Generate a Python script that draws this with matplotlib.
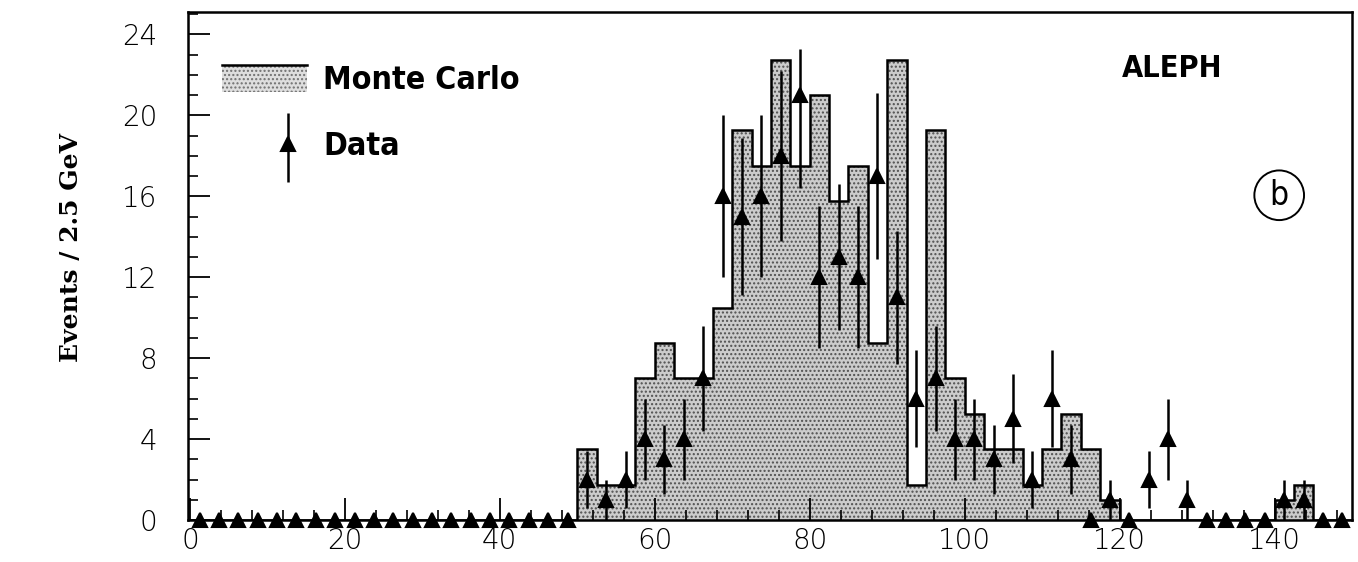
import numpy as np
import matplotlib
matplotlib.use("Agg")
import matplotlib.pyplot as plt
from matplotlib.ticker import MultipleLocator

# bins of 2.5 GeV from 0 to 150
bin_width = 2.5
edges = np.arange(0, 150 + bin_width, bin_width)
centers = edges[:-1] + bin_width / 2

# Monte Carlo, bins 0-50 are empty
mc_low = [0.0] * 20
mc_high = [3.5, 1.75, 1.75, 7.0, 8.75, 7.0, 7.0, 10.5, 19.25, 17.5,
           22.75, 17.5, 21.0, 15.75, 17.5, 8.75, 22.75, 1.75, 19.25, 7.0,
           5.25, 3.5, 3.5, 1.75, 3.5, 5.25, 3.5, 1.0, 0, 0,
           0, 0, 0, 0, 0, 0, 1.0, 1.75, 0, 0]
mc = np.array(mc_low + mc_high)

# data events per bin
data_low = [0] * 20
data_high = [2, 1, 2, 4, 3, 4, 7, 16, 15, 16,
             18, 21, 12, 13, 12, 17, 11, 6, 7, 4,
             4, 3, 5, 2, 6, 3, 0, 1, 0, 2,
             4, 1, 0, 0, 0, 0, 1, 1, 0, 0]
data = np.array(data_low + data_high)

# error bars (lower, upper)
err_lo_high = [1.4, 1.0, 1.4, 2.0, 1.7, 2.0, 2.6, 4.0, 3.9, 4.0,
               4.2, 4.6, 3.5, 3.6, 3.5, 4.1, 3.3, 2.4, 2.6, 2.0,
               2.0, 1.7, 2.2, 1.4, 2.4, 1.7, 0, 1.0, 0, 1.4,
               2.0, 1.0, 0, 0, 0, 0, 1.0, 1.0, 0, 0]
err_hi_high = [1.4, 1.0, 1.4, 2.0, 1.7, 2.0, 2.6, 4.0, 3.9, 4.0,
               4.2, 2.3, 3.5, 3.6, 3.5, 4.1, 3.3, 2.4, 2.6, 2.0,
               2.0, 1.7, 2.2, 1.4, 2.4, 1.7, 0, 1.0, 0, 1.4,
               2.0, 1.0, 0, 0, 0, 0, 1.0, 1.0, 0, 0]
err_lo = np.array([0] * 20 + err_lo_high)
err_hi = np.array([0] * 20 + err_hi_high)

plt.rcParams['font.family'] = 'DejaVu Sans'
plt.rcParams['font.weight'] = 'light'
plt.rcParams['hatch.linewidth'] = 1.0
plt.rcParams['hatch.color'] = '#505050'

fig = plt.figure(figsize=(13.58, 5.62), dpi=100)
ax = fig.add_axes([0.1384, 0.0745, 0.8572, 0.904])

# shaded MC histogram + outline
ax.stairs(mc, edges, fill=True, facecolor='#cccccc', edgecolor='#505050',
          linewidth=0, hatch='....', baseline=0)
ax.stairs(mc, edges, fill=False, color='black', linewidth=1.8, baseline=0)

# data points
nz = data > 0
ax.errorbar(centers[nz], data[nz], yerr=[err_lo[nz], err_hi[nz]], fmt='none',
            ecolor='black', elinewidth=1.8, capsize=0)
ax.plot(centers, data, linestyle='none', marker='^', markersize=10,
        markerfacecolor='black', markeredgecolor='black', markeredgewidth=1.5,
        clip_on=False, zorder=5)

ax.set_xlim(-0.25, 150)
ax.set_ylim(0, 25.1)

ax.xaxis.set_major_locator(MultipleLocator(20))
ax.xaxis.set_minor_locator(MultipleLocator(4))
ax.yaxis.set_major_locator(MultipleLocator(4))
ax.yaxis.set_minor_locator(MultipleLocator(1))
ax.tick_params(which='both', direction='in', top=False, right=False)
ax.tick_params(which='major', length=16, width=1.3, labelsize=20)
ax.tick_params(which='minor', length=7, width=1.2)
ax.tick_params(axis='y', which='major', pad=22)
ax.tick_params(axis='x', which='major', pad=5)
for sp in ax.spines.values():
    sp.set_linewidth(1.8)

ax.set_ylabel('Events / 2.5 GeV', fontsize=18, fontweight='bold',
              family='DejaVu Serif')
ax.yaxis.set_label_coords(-0.09, 0.536)

# legend drawn by hand
ax.add_patch(plt.Rectangle((4.1, 21.15), 11.0, 1.3, facecolor='#dedede',
                           edgecolor='#707070', linewidth=0, hatch='....'))
ax.plot([4.1, 15.1], [22.5, 22.5], color='black', linewidth=1.8)
ax.text(17.2, 21.7, 'Monte Carlo', fontsize=23, fontweight='bold',
        family='DejaVu Sans', fontstretch='condensed', va='center', ha='left')
ax.errorbar([12.6], [18.6], yerr=[[1.9], [1.5]], fmt='none', ecolor='black',
            elinewidth=1.8)
ax.plot([12.6], [18.6], marker='^', markersize=10, markerfacecolor='black',
        markeredgecolor='black', markeredgewidth=1.5)
ax.text(17.2, 18.45, 'Data', fontsize=23, fontweight='bold',
        family='DejaVu Sans', fontstretch='condensed', va='center', ha='left')

ax.text(120.3, 22.3, 'ALEPH', fontsize=22, fontweight='bold',
        family='DejaVu Sans', fontstretch='condensed', va='center', ha='left')
ax.text(140.6, 16.05, 'b', fontsize=24, family='DejaVu Sans',
        fontstretch='condensed', va='center', ha='center',
        bbox=dict(boxstyle='circle,pad=0.25', facecolor='white',
                  edgecolor='black', linewidth=1.4))

fig.savefig('out.png', dpi=100)
